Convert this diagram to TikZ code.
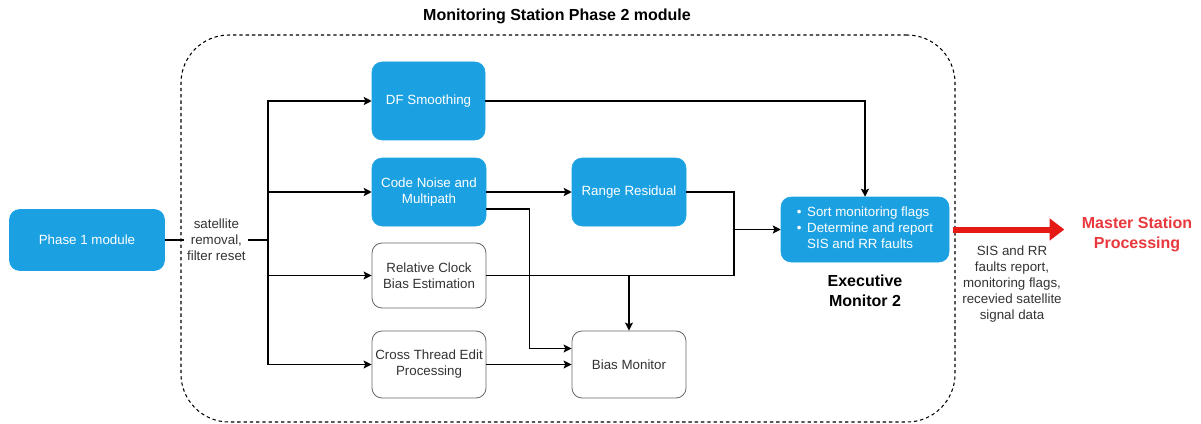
\documentclass[tikz,border=0pt]{standalone}
\usepackage{fontspec}
\setmainfont{Liberation Sans}
\usetikzlibrary{arrows.meta,calc}
\definecolor{boxblue}{HTML}{1BA1E2}
\definecolor{txtgray}{HTML}{333333}
\definecolor{arrred}{HTML}{E51A14}
\definecolor{msred}{HTML}{E8383D}
\def\pxu{0.75pt}
\begin{document}
\begin{tikzpicture}[x=0.75pt,y=-0.75pt,
  bsize/.style 2 args={minimum width=#1*\pxu, minimum height=#2*\pxu},
  base/.style={rounded corners=7.5pt, align=center, inner sep=2pt,
    font=\fontsize{10}{12}\selectfont},
  bluebox/.style={base, fill=boxblue, draw=boxblue, text=white},
  whitebox/.style={base, fill=white, draw=black!60, line width=0.6pt, text=txtgray},
  frame/.style={draw=black, line width=0.8pt, dash pattern=on 2.5pt off 2.2pt,
    rounded corners=36pt, inner sep=0pt},
  conn/.style={draw=black, line width=1pt},
  arr/.style={conn, -{Stealth[length=6pt,width=6pt,inset=1.2pt]}},
  bigtext/.style={font=\bfseries\fontsize{12}{15}\selectfont, align=center},
  plain/.style={font=\fontsize{10}{12}\selectfont, text=txtgray, align=center}]
\useasboundingbox (0,0) rectangle (1201,424);

% module outline and its heading
\node[frame, bsize={774}{387}] (module) at (568,228.5) {};
\node[bigtext] (title) at (557,16) {Monitoring Station Phase 2 module};

% processing blocks
\node[bluebox, bsize={155}{61}] (p1) at (87,240) {Phase 1 module};
\node[bluebox, bsize={113}{78}] (df) at (428.5,101) {DF Smoothing};
\node[bluebox, bsize={114}{68}] (code) at (429,192) {Code Noise and\\Multipath};
\node[whitebox, bsize={114}{65}] (clock) at (429,275.5) {Relative Clock\\Bias Estimation};
\node[whitebox, bsize={114}{67}] (cross) at (429,364.5) {Cross Thread Edit\\Processing};
\node[bluebox, bsize={114}{68}] (rr) at (629,192) {Range Residual};
\node[whitebox, bsize={114}{67}] (bias) at (629,364.5) {Bias Monitor};
\node[bluebox, bsize={168}{65}] (exec) at (865,229.5) {%
  \begin{tabular}{@{}l@{\hspace{4.2pt}}l@{}}
  \textbullet & Sort monitoring flags\\
  \textbullet & Determine and report\\
   & SIS and RR faults
  \end{tabular}};
\node[bigtext] (execlbl) at (865,291) {Executive\\Monitor 2};

% downstream processing
\node[bigtext, text=msred, inner sep=2pt] (ms) at (1137,234) {Master Station\\Processing};
\node[plain] (flow) at (1012,284) {SIS and RR\\faults report,\\monitoring flags,\\recevied satellite\\signal data};

% distribution bus
\coordinate (j) at (268,240);
\draw[conn] (p1.east) -- node[plain, fill=white, inner xsep=2pt, inner ysep=1pt]
  {satellite\\removal,\\filter reset} (j);
\draw[arr] (j) |- (df.west);
\draw[arr] (j) |- (code.west);
\draw[arr] (j) |- (clock.west);
\draw[arr] (j) |- (cross.west);

% internal connections
\draw[arr] (df.east) -| (exec.north);
\draw[arr] (code.east) -- (rr.west);
\coordinate (merge) at (734,229.5);
\draw[arr] (rr.east) -| (merge) -- (exec.west);
\draw[conn] (clock.east) -| (merge);
\draw[arr] (bias.north |- clock.east) -- (bias.north);
\draw[arr] ($(code.east)+(0,17)$) -- ++(43,0) |- ($(bias.west)+(0,-16)$);
\draw[arr] (cross.east) -- (bias.west);

% report to the master station
\draw[arrred, line width=4.5pt, -{Triangle[length=11pt,width=16pt]}, shorten >=11pt]
  ([xshift=3pt]exec.east) -- (ms.west |- exec.east);
\end{tikzpicture}
\end{document}
